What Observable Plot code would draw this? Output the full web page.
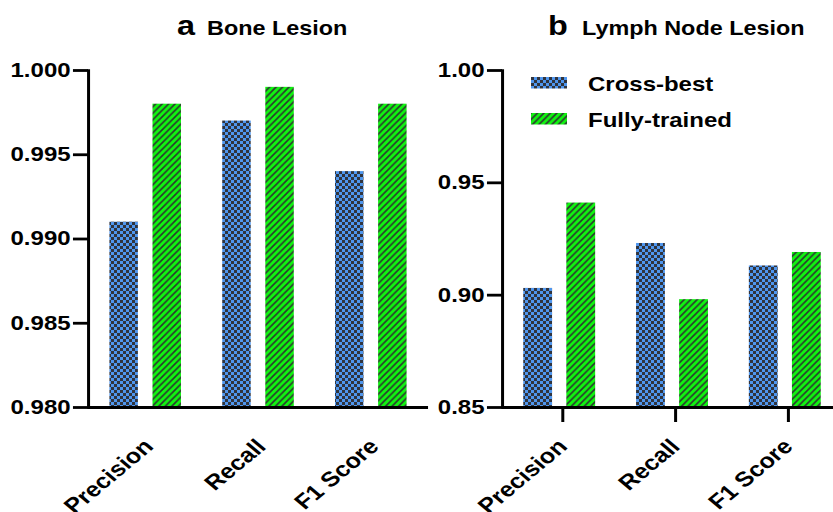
<!DOCTYPE html>
<html><head><meta charset="utf-8">
<script src="https://cdn.jsdelivr.net/npm/d3@7"></script>
<script src="https://cdn.jsdelivr.net/npm/@observablehq/plot@0.6"></script>
<style>
html,body{margin:0;padding:0;background:#fff;overflow:hidden;}
#fig{position:relative;width:694.17px;height:512px;transform:scaleX(1.2);transform-origin:0 0;font-family:"Liberation Sans",Arial,Helvetica,sans-serif;}
.panel{position:absolute;top:0;}
#overlay{position:absolute;left:0;top:0;overflow:visible;}
</style></head><body>
<svg width="0" height="0" style="position:absolute;left:0;top:0">
  <defs>
    <pattern id="checker" patternUnits="userSpaceOnUse" width="5" height="6">
      <rect x="0" y="0" width="5" height="6" fill="#4f96ee"/>
      <rect x="0" y="0" width="2.5" height="3" fill="#30343e"/>
      <rect x="2.5" y="3" width="2.5" height="3" fill="#30343e"/>
    </pattern>
    <pattern id="hatch" patternUnits="userSpaceOnUse" width="5.4" height="6.5">
      <rect x="0" y="0" width="5.4" height="6.5" fill="#10f510"/>
      <path d="M-1.35,1.625 L1.35,-1.625 M0,6.5 L5.4,0 M4.05,8.125 L6.75,4.875" stroke="#2d3530" stroke-width="1.5"/>
    </pattern>
  </defs>
</svg>
<div id="fig"></div>
<script>
const metrics = ["Precision", "Recall", "F1 Score"];
const seriesNames = ["Cross-best", "Fully-trained"];
const boneCrossBest = [0.991, 0.997, 0.994];
const boneFullyTrained = [0.998, 0.999, 0.998];
const lymphCrossBest = [0.903, 0.923, 0.913];
const lymphFullyTrained = [0.941, 0.898, 0.919];
const boneTicks = [0.980, 0.985, 0.990, 0.995, 1.000];
const lymphTicks = [0.85, 0.90, 0.95, 1.00];
const panelLetters = ["a", "b"];
const panelTitles = ["Bone Lesion", "Lymph Node Lesion"];

const FONT = '"Liberation Sans", Arial, Helvetica, sans-serif';
const seriesFill = {"Cross-best": "url(#checker)", "Fully-trained": "url(#hatch)"};

function panel({cross, fully, ticks, fmt, width, marginLeft, marginRight, xTickSize, xTickPadding}) {
  const rows = metrics.flatMap((m, i) => [
    {metric: m, series: seriesNames[0], value: cross[i]},
    {metric: m, series: seriesNames[1], value: fully[i]}
  ]);
  const bw = (width - marginLeft - marginRight) / metrics.length;
  const barW = 24.2, gap = 11.7;
  const inset = (k) => {
    const l = bw / 2 - (2 * barW + gap) / 2 + k * (barW + gap);
    return {insetLeft: l, insetRight: bw - l - barW};
  };
  const y0 = ticks[0];
  return Plot.plot({
    width, height: 512, marginLeft, marginRight, marginTop: 70, marginBottom: 105,
    style: {fontFamily: FONT, fontWeight: "bold", color: "#000", background: "transparent", overflow: "visible", maxWidth: "none"},
    x: {domain: metrics, padding: 0},
    y: {domain: [ticks[0], ticks[ticks.length - 1]]},
    marks: [
      ...seriesNames.map((s, k) => Plot.barY(rows.filter(d => d.series === s), {
        x: "metric", y1: d => y0, y2: "value", fill: seriesFill[s], ...inset(k)
      })),
      Plot.axisY({ticks, tickFormat: fmt, tickSize: 12.5, tickPadding: 2.5, strokeWidth: 2.8, fontSize: 20, fontWeight: "bold", label: null}),
      Plot.axisX({tickRotate: -45, tickSize: xTickSize, tickPadding: xTickPadding, strokeWidth: 2.5, fontSize: 21, fontWeight: "bold", dx: 2.5, label: null}),
      Plot.frame({anchor: "left", strokeWidth: 2.5}),
      Plot.ruleY([y0], {strokeWidth: 3})
    ]
  });
}

const fig = document.getElementById("fig");
const p1 = panel({cross: boneCrossBest, fully: boneFullyTrained, ticks: boneTicks, fmt: ".3f",
  width: 360, marginLeft: 73.3, marginRight: 3.3, xTickSize: 0, xTickPadding: 35.5});
const p2 = panel({cross: lymphCrossBest, fully: lymphFullyTrained, ticks: lymphTicks, fmt: ".2f",
  width: 345, marginLeft: 58.3, marginRight: 4.2, xTickSize: 15, xTickPadding: 20.5});
const d1 = document.createElement("div"); d1.className = "panel"; d1.style.left = "0px"; d1.style.width = "360px"; d1.appendChild(p1);
const d2 = document.createElement("div"); d2.className = "panel"; d2.style.left = "360px"; d2.style.width = "345px"; d2.appendChild(p2);
fig.appendChild(d1); fig.appendChild(d2);

// titles and legend overlay
const ov = d3.select(fig).append("svg").attr("id", "overlay").attr("width", 694.17).attr("height", 512)
  .style("font-family", FONT).style("font-weight", "bold");
const letterX = [147.5, 456.7], titleX = [172.5, 485];
panelLetters.forEach((l, i) => {
  ov.append("text").attr("x", letterX[i]).attr("y", 35).attr("font-size", 27).text(l);
  ov.append("text").attr("x", titleX[i]).attr("y", 35).attr("font-size", 19.5).text(panelTitles[i]);
});
seriesNames.forEach((s, i) => {
  const g = ov.append("g").attr("transform", `translate(442.5,${77 + i * 36})`);
  g.append("rect").attr("width", 30).attr("height", 11.5).attr("fill", seriesFill[s]);
  g.append("text").attr("x", 47.5).attr("y", 13.5).attr("font-size", 20).text(s);
});
</script>
</body></html>
